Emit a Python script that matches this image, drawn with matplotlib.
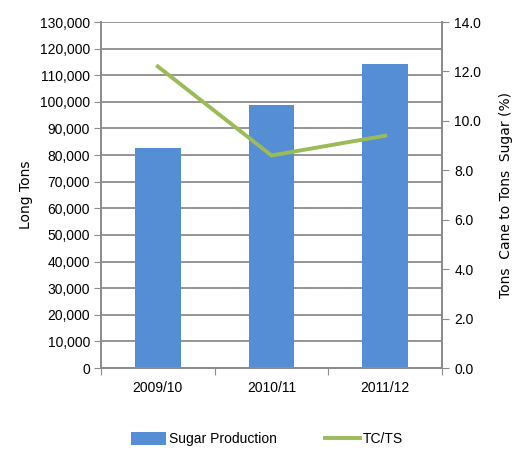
import matplotlib.pyplot as plt
import numpy as np

plt.rcParams['font.family'] = ['Liberation Sans', 'DejaVu Sans']

seasons = ['2009/10', '2010/11', '2011/12']
production = [82500, 98800, 114300]
tc_ts = [12.2, 8.6, 9.4]

x = np.arange(len(seasons))

fig = plt.figure(figsize=(5.22, 4.53), dpi=100)
ax = fig.add_axes([0.1935, 0.1876, 0.6532, 0.7638])
ax2 = ax.twinx()

ax.set_axisbelow(True)
ax.yaxis.grid(True, color='#8c8c8c', linewidth=1.3)
bars = ax.bar(x, production, width=0.4, color='#558ed5', label='Sugar Production', zorder=2)
line, = ax2.plot(x, tc_ts, color='#9bbb59', linewidth=2.8, label='TC/TS')

ax.set_xlim(-0.5, 2.5)
ax.set_ylim(0, 130000)
ax.set_yticks(np.arange(0, 130001, 10000))
ax.set_yticklabels(['{:,}'.format(v) for v in range(0, 130001, 10000)], fontsize=10)
ax2.set_ylim(0, 14)
ax2.set_yticks(np.arange(0, 14.1, 2))
ax2.set_yticklabels(['{:.1f}'.format(v) for v in np.arange(0, 14.1, 2)], fontsize=10)

ax.set_xticks([-0.5, 0.5, 1.5, 2.5], minor=False)
ax.set_xticklabels([])
ax.set_xticks(x, minor=True)
ax.set_xticklabels(seasons, minor=True, fontsize=10)
ax.tick_params(axis='x', which='major', length=5, color='#8c8c8c', direction='out')
ax.tick_params(axis='x', which='minor', length=0, pad=9)
ax.tick_params(axis='y', length=5, color='#8c8c8c', pad=3)
ax2.tick_params(axis='y', length=5, color='#8c8c8c', pad=4)

for a in (ax, ax2):
    a.spines['top'].set_visible(False)
    for s in ('left', 'right', 'bottom'):
        a.spines[s].set_color('#8c8c8c')
        a.spines[s].set_linewidth(1.3)

ax.set_ylabel('Long Tons', fontsize=10, family='DejaVu Sans')
ax.yaxis.set_label_coords(-0.199, 0.5)
ax2.set_ylabel('Tons  Cane to Tons  Sugar (%)', fontsize=10, family='DejaVu Sans')
ax2.yaxis.set_label_coords(1.167, 0.5)

fig.legend([bars, line], ['Sugar Production', 'TC/TS'], loc='center', bbox_to_anchor=(0.512, 0.03),
           ncol=2, frameon=False, fontsize=10, columnspacing=3.5, handlelength=2.5,
           handleheight=1.0, handletextpad=0.2)

plt.savefig('out.png', dpi=100)
